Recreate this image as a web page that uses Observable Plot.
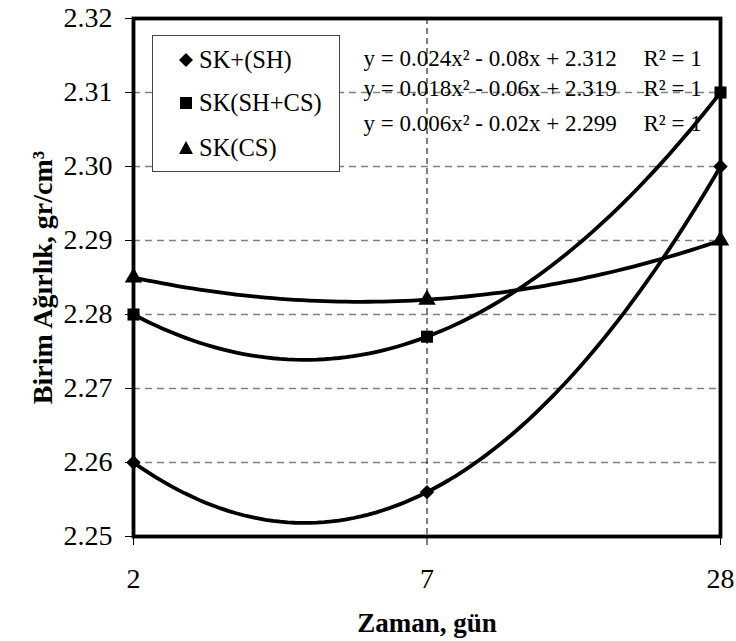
<!DOCTYPE html>
<html>
<head>
<meta charset="utf-8">
<script src="https://cdn.jsdelivr.net/npm/d3@7"></script>
<script src="https://cdn.jsdelivr.net/npm/@observablehq/plot@0.6"></script>
<style>
  body { margin: 0; background: #fff; }
  #wrap { position: relative; width: 736px; height: 641px; font-family: 'Liberation Serif', 'Tinos', 'Times New Roman', 'DejaVu Serif', serif; }
  #wrap svg, #wrap svg text { font-family: 'Liberation Serif', 'Tinos', 'Times New Roman', 'DejaVu Serif', serif; }
  #legend { position: absolute; left: 152px; top: 35px; width: 188px; height: 137px; border: 1px solid #444; background: #fff; box-sizing: border-box; }
  .item { position: absolute; display: flex; align-items: center; font-size: 24.5px; line-height: 1; color: #000; }
  .item svg { margin-right: 2px; }
</style>
</head>
<body>
<div id="wrap"></div>
<script>
// ---- data ----
const xLabels = ["2", "7", "28"];
const seriesNames = ["SK+(SH)", "SK(SH+CS)", "SK(CS)"];
const skSH = [2.260, 2.256, 2.300];
const skSHCS = [2.280, 2.277, 2.310];
const skCS = [2.285, 2.282, 2.290];
const yTicks = [2.25, 2.26, 2.27, 2.28, 2.29, 2.30, 2.31, 2.32];
const equations = [
  "y = 0.024x² - 0.08x + 2.312",
  "y = 0.018x² - 0.06x + 2.319",
  "y = 0.006x² - 0.02x + 2.299"
];
const r2Labels = ["R² = 1", "R² = 1", "R² = 1"];
const symbols = ["diamond2", "square", "triangle"];

const seriesValues = [skSH, skSHCS, skCS];

// points table
const points = [];
seriesValues.forEach((vals, s) => vals.forEach((v, i) => points.push({series: seriesNames[s], x: i + 1, y: v})));

// polynomial (order 2) trendline through the three points, as Excel draws it
function quadFit(vals) {
  const [y1, y2, y3] = vals; // x = 1,2,3
  const a = ((y3 - y2) - (y2 - y1)) / 2;
  const b = (y2 - y1) - 3 * a;
  const c = y1 - a - b;
  return x => a * x * x + b * x + c;
}
const trend = [];
seriesValues.forEach((vals, s) => {
  const f = quadFit(vals);
  for (let k = 0; k <= 80; k++) {
    const x = 1 + 2 * k / 80;
    trend.push({series: seriesNames[s], x, y: f(x)});
  }
});

const eqDy = [40, 70, 105];

const marks = [
  Plot.gridY(yTicks, {stroke: "#808080", strokeOpacity: 1, strokeWidth: 1.5, strokeDasharray: "7,5"}),
  Plot.gridX([2], {stroke: "#000", strokeOpacity: 1, strokeWidth: 1, strokeDasharray: "6,4"}),
  Plot.axisY(yTicks, {tickFormat: d3.format(".2f"), tickSize: 8, tickPadding: 13, fontSize: 28, label: null}),
  Plot.axisX([1, 2, 3], {tickFormat: d => xLabels[d - 1], tickSize: 9, tickPadding: 23, fontSize: 28, label: null}),
  Plot.line(trend, {x: "x", y: "y", z: "series", stroke: "#000", strokeWidth: 3.8}),
  ...seriesNames.map((name, s) => Plot.dot(points.filter(d => d.series === name), {x: "x", y: "y", symbol: () => symbols[s], fill: "#000", stroke: "none", r: s === 1 ? 6.8 : 6.5})),
  ...equations.map((t, i) => Plot.text([t], {frameAnchor: "top-left", dx: 230, dy: eqDy[i], textAnchor: "start", lineAnchor: "middle", fontSize: 23, fill: "#000"})),
  ...r2Labels.map((t, i) => Plot.text([t], {frameAnchor: "top-left", dx: 510, dy: eqDy[i], textAnchor: "start", lineAnchor: "middle", fontSize: 23, fill: "#000"})),
  Plot.frame({stroke: "#000", strokeWidth: 3.8}),
  Plot.text(["Zaman, gün"], {frameAnchor: "bottom", dy: 87, textAnchor: "middle", lineAnchor: "middle", fontSize: 27, fontWeight: "bold", fill: "#000"}),
  Plot.text(["Birim Ağırlık, gr/cm³"], {frameAnchor: "left", dx: -90, textAnchor: "middle", lineAnchor: "middle", rotate: -90, fontSize: 28, fontWeight: "bold", fill: "#000"})
];

const chart = Plot.plot({
  width: 736,
  height: 641,
  marginLeft: 133,
  marginRight: 16,
  marginTop: 18,
  marginBottom: 105,
  style: {fontFamily: "'Liberation Serif', 'Tinos', 'Times New Roman', 'DejaVu Serif', serif", fontSize: "20px", color: "#000", background: "#fff"},
  x: {domain: [1, 3], axis: null},
  y: {domain: [2.25, 2.32], axis: null},
  symbol: {type: "identity"},
  marks
});

const wrap = document.getElementById("wrap");
wrap.appendChild(chart);

// legend
const legend = document.createElement("div");
legend.id = "legend";
const shapes = [
  '<svg width="22" height="16" viewBox="-11 -8 22 16"><path d="M0,-7L7,0L0,7L-7,0Z" fill="#000"/></svg>',
  '<svg width="22" height="16" viewBox="-11 -8 22 16"><rect x="-6" y="-6" width="12" height="12" fill="#000"/></svg>',
  '<svg width="22" height="16" viewBox="-11 -8 22 16"><path d="M0,-7L7,6L-7,6Z" fill="#000"/></svg>'
];
const rowCenters = [24, 67, 112];
seriesNames.forEach((name, i) => {
  const it = document.createElement("div");
  it.className = "item";
  it.style.left = "22px";
  it.style.top = (rowCenters[i] - 12) + "px";
  it.style.height = "24px";
  it.innerHTML = shapes[i] + "<span>" + name + "</span>";
  legend.appendChild(it);
});
wrap.appendChild(legend);
</script>
</body>
</html>
